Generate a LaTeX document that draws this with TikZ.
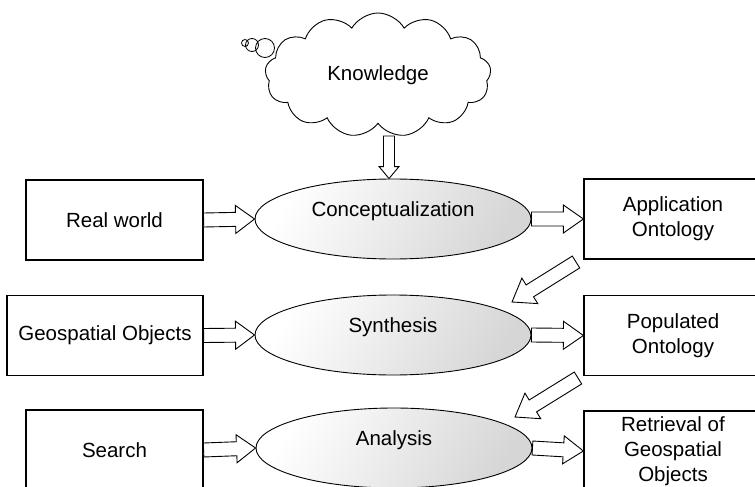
\documentclass[tikz,border=0pt]{standalone}
\usepackage{fontspec}
\setmainfont{Liberation Sans}
\usetikzlibrary{calc,shapes.geometric,shapes.symbols}

\tikzset{
  box/.style={draw, line width=1.2pt, minimum width=177pt, minimum height=80pt,
    inner sep=0pt, align=center},
  stage/.style={draw, ellipse, line width=0.9pt, minimum width=276pt, minimum height=80pt,
    inner sep=0pt, top color=white, bottom color=black!16, shading angle=60,
    text height=15pt, text depth=20pt},
  blk/.style={draw, line width=0.9pt, fill=white, line join=miter}
}
% block arrow: from, to, shaft half width, head half width, head length
\newcommand{\blockarrow}[5]{%
  \coordinate (ba s) at (#1);
  \coordinate (ba t) at (#2);
  \coordinate (ba h) at ($(ba t)!#5!(ba s)$);
  \draw[blk] ($(ba s)!#3!90:(ba t)$) -- ($(ba h)!#3!-90:(ba s)$) -- ($(ba h)!#4!-90:(ba s)$)
    -- (ba t) -- ($(ba h)!#4!90:(ba s)$) -- ($(ba h)!#3!90:(ba s)$)
    -- ($(ba s)!#3!-90:(ba t)$) -- cycle;
}

\begin{document}
\begin{tikzpicture}[x=1pt, y=-1pt, every node/.style={font=\fontsize{20.5}{25}\selectfont}]
    \useasboundingbox (0,0) rectangle (755,487);
    \clip (0,0) rectangle (755,487);
    % knowledge cloud
    \node[cloud, draw, line width=0.9pt, cloud puffs=13, cloud puff arc=120, aspect=1.9,
      minimum width=226pt, minimum height=124pt] (knowledge) at (378,75) {Knowledge};
    \draw[line width=0.8pt] (245,43) circle (3.5pt) (252,45) circle (6.5pt) (265,48) circle (9.5pt);
    % left column
    \node[box] (realworld) at (114.5,220) {Real world};
    \node[box, minimum width=196pt] (geoobj) at (105,335.5) {Geospatial Objects};
    \node[box] (search) at (114.5,450) {Search};
    % processes
    \node[stage] (concept) at (393,219) {Conceptualization};
    \node[stage] (synth) at (393,335) {Synthesis};
    \node[stage] (analysis) at (394,448) {Analysis};
    % right column
    \node[box, minimum width=178pt] (appont) at (673,219) {Application\\Ontology};
    \node[box, minimum width=178pt] (popont) at (673,335.5) {Populated\\Ontology};
    \node[box, minimum width=178pt] (retrieval) at (673,451) {Retrieval of\\Geospatial\\Objects};
    % arrows
    \coordinate (knfoot) at (389,136);
    \blockarrow{knfoot}{knfoot |- concept.north}{5.5pt}{10pt}{12pt}
    \blockarrow{realworld.east}{concept.west}{7pt}{14pt}{19pt}
    \blockarrow{geoobj.east}{synth.west}{7pt}{14pt}{19pt}
    \blockarrow{search.east}{analysis.west}{7pt}{14pt}{19pt}
    \blockarrow{concept.east}{appont.west}{7pt}{14pt}{20pt}
    \blockarrow{synth.east}{popont.west}{7pt}{14pt}{20pt}
    \blockarrow{analysis.east}{retrieval.west}{7pt}{14pt}{20pt}
    \coordinate (dtail1) at (576,262);
    \coordinate (dtip1) at (512,302);
    \coordinate (dtail2) at (578,378);
    \coordinate (dtip2) at (515,417);
    \blockarrow{dtail1}{dtip1}{7pt}{15pt}{21pt}
    \blockarrow{dtail2}{dtip2}{7pt}{15pt}{21pt}
\end{tikzpicture}
\end{document}
